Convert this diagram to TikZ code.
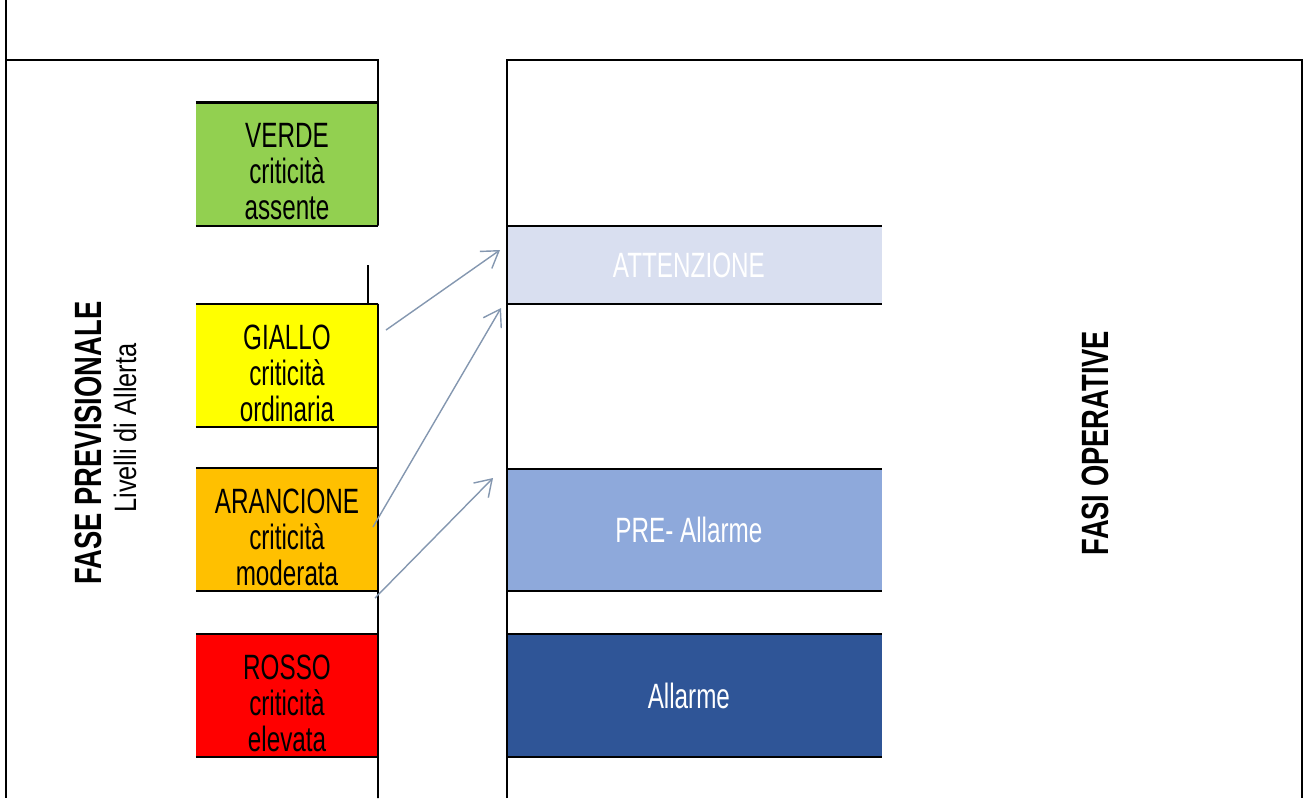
\documentclass[tikz,border=0pt]{standalone}
\usepackage{fontspec}
\setmainfont{Liberation Sans}[FakeStretch=0.82]
\newfontfamily\stretta{Liberation Sans}[FakeStretch=0.69]
\newfontfamily\titoli{Liberation Sans}[FakeStretch=0.72]
\usetikzlibrary{arrows.meta}
\definecolor{verde}{HTML}{92D050}
\definecolor{giallo}{HTML}{FFFF00}
\definecolor{arancione}{HTML}{FFC000}
\definecolor{rosso}{HTML}{FF0000}
\definecolor{attenzione}{HTML}{D9DFF0}
\definecolor{preallarme}{HTML}{8EA9DB}
\definecolor{allarme}{HTML}{2F5597}
\definecolor{colfreccia}{HTML}{8497B0}
\newcommand{\alto}{\rule{0pt}{14pt}}
\tikzset{
    livello/.style={inner sep=0pt,outer sep=0pt,minimum width=2.275cm,minimum height=1.54cm,
        align=center,font=\fontsize{12.5}{12.8}\selectfont\stretta},
    fase/.style={inner sep=0pt,outer sep=0pt,minimum width=4.6875cm,
        align=center,text=white,font=\fontsize{12.5}{12.8}\selectfont\stretta},
    bordo/.style={line width=0.8pt},
    cornice/.style={line width=0.6pt},
    titolo/.style={rotate=90,font=\fontsize{13.5}{15}\selectfont\titoli\bfseries},
    freccia/.style={draw=colfreccia,line width=0.5pt,-{Straight Barb[length=2mm,width=2.6mm]}}
}
\begin{document}
\begin{tikzpicture}[x=0.0125cm,y=-0.0125cm]
        \useasboundingbox (0,0) rectangle (1303,798);
        % livelli di allerta
        \node[livello,fill=verde] (verde) at (287,164) {\alto VERDE\\criticità\\assente};
        \node[livello,fill=giallo] (giallo) at (287,365.5) {\alto GIALLO\\criticità\\ordinaria};
        \node[livello,fill=arancione] (arancione) at (287,529.5) {\alto ARANCIONE\\criticità\\moderata};
        \node[livello,fill=rosso] (rosso) at (287,695.5) {\alto ROSSO\\criticità\\elevata};
        \foreach \n in {verde,giallo,arancione,rosso}
            \draw[bordo] (\n.north west) -- (\n.north east) (\n.south west) -- (\n.south east);
        %
        % fasi operative
        \node[fase,fill=attenzione,minimum height=0.975cm] (attenzione) at (694.5,265) {\hspace{-4pt}ATTENZIONE};
        \node[fase,fill=preallarme,minimum height=1.525cm] (pre) at (694.5,530) {\hspace{-4pt}PRE- Allarme};
        \node[fase,fill=allarme,minimum height=1.54cm] (allarme) at (694.5,695.5) {\hspace{-4pt}Allarme};
        \foreach \n in {attenzione,pre,allarme}
            \draw[bordo] (\n.north west) -- (\n.north east) (\n.south west) -- (\n.south east);
        %
        % cornici
        \draw[cornice] (6,0) -- (6,798);
        \draw[cornice] (6,60) -- (378,60) -- (verde.north east) -- (verde.south east);
        \draw[cornice] (368,265) -- (368,304);
        \draw[cornice] (giallo.north east) -- (378,798);
        \draw[cornice] (507,798) -- (507,60) -- (1302,60) -- (1302,798);
        %
        % titoli
        \node[titolo] (previsionale) at (88,443) {FASE PREVISIONALE};
        \node[rotate=90,font=\fontsize{11}{13}\selectfont] (livelli) at (125,428) {Livelli di Allerta};
        \node[titolo] (operative) at (1095,443) {FASI OPERATIVE};
        %
        % frecce
        \coordinate (g1) at (386,330);
        \coordinate (a1) at (500,250);
        \coordinate (o1) at (373,527);
        \coordinate (a2) at (501,308);
        \coordinate (o2) at (375,598);
        \coordinate (p1) at (493,478);
        \draw[freccia] (g1) -- (a1);
        \draw[freccia] (o1) -- (a2);
        \draw[freccia] (o2) -- (p1);
\end{tikzpicture}
\end{document}
